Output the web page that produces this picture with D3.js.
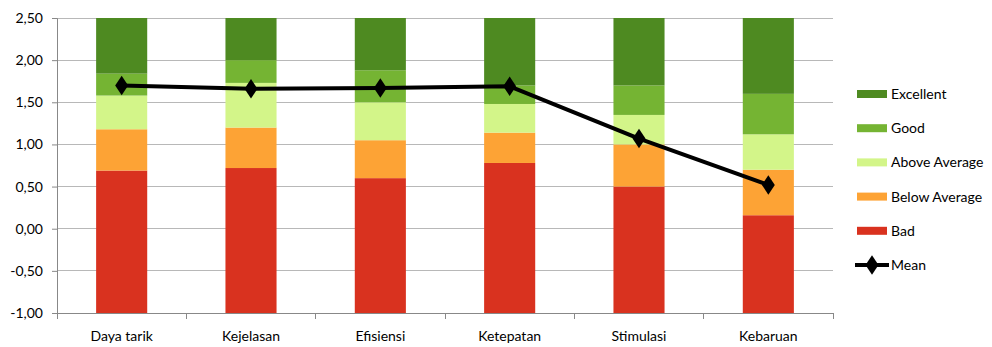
<!DOCTYPE html>
<html><head><meta charset="utf-8">
<script src="https://cdn.jsdelivr.net/npm/d3@7"></script>
<style>body{margin:0;background:#fff}text{font-family:Lato,"Open Sans",sans-serif;}</style>
</head><body><svg id="c" width="992" height="347"></svg>
<script>
const categories = ["Daya tarik","Kejelasan","Efisiensi","Ketepatan","Stimulasi","Kebaruan"];
// upper boundaries of each benchmark band (base of stack is -1, top clipped at 2.5)
const badTop = [0.69,0.72,0.60,0.78,0.50,0.16];
const belowTop = [1.18,1.20,1.05,1.14,1.00,0.70];
const aboveTop = [1.58,1.73,1.50,1.48,1.35,1.12];
const goodTop = [1.84,2.00,1.88,1.70,1.70,1.60];
const excellentTop = [2.50,2.50,2.50,2.50,2.50,2.50];
const mean = [1.70,1.66,1.67,1.69,1.07,0.52];
const yTicks = [-1,-0.5,0,0.5,1,1.5,2,2.5];
const seriesNames = ["Bad","Below Average","Above Average","Good","Excellent"];
const colors = ["#D9321F","#FDA335","#D3F589","#75B433","#4E8A21"];

const tops = [badTop, belowTop, aboveTop, goodTop, excellentTop];
const svg = d3.select("#c");
const m = {l:57, r:833, t:18, b:313};
const x = d3.scaleBand().domain(categories).range([m.l, m.r]).paddingInner(0.605).paddingOuter(0.3025);
const xc = d3.scaleBand().domain(categories).range([m.l, m.r]);
const y = d3.scaleLinear().domain([-1,2.5]).range([m.b, m.t]);
const FS = "14px";

// gridlines
svg.append("g").selectAll("line").data(yTicks).join("line")
  .attr("x1", m.l).attr("x2", m.r).attr("y1", d=>y(d)).attr("y2", d=>y(d))
  .attr("stroke","#b8b8b8").attr("stroke-width",1).attr("shape-rendering","crispEdges");

// bars
tops.forEach((arr, si) => {
  svg.append("g").selectAll("rect").data(categories).join("rect")
    .attr("x", d=>x(d)).attr("width", x.bandwidth())
    .attr("y", (d,i)=>y(arr[i]))
    .attr("height", (d,i)=>y(si===0 ? -1 : tops[si-1][i]) - y(arr[i]))
    .attr("fill", colors[si]);
});

// y axis
const ya = svg.append("g").attr("transform",`translate(${m.l},0)`)
  .call(d3.axisLeft(y).tickValues(yTicks).tickSize(5).tickPadding(9).tickFormat(d=>d3.format(".2f")(d).replace(".",",").replace("−","-")));
ya.select(".domain").attr("stroke","#888");
ya.selectAll(".tick line").attr("stroke","#888");
ya.selectAll("text").attr("font-size",FS).attr("fill","#000");

// x axis
const xa = svg.append("g").attr("transform",`translate(0,${m.b})`)
  .call(d3.axisBottom(xc).tickSize(0).tickPadding(18));
xa.select(".domain").attr("stroke","#888");
xa.selectAll("text").attr("font-size",FS).attr("fill","#000");
const bounds = categories.map(c=>xc(c)).concat([m.r]);
svg.append("g").selectAll("line").data(bounds).join("line")
  .attr("x1",d=>d).attr("x2",d=>d).attr("y1",m.b).attr("y2",m.b+6)
  .attr("stroke","#888").attr("shape-rendering","crispEdges");

// mean line
const line = d3.line().x((d,i)=>xc(categories[i])+xc.bandwidth()/2).y(d=>y(d));
svg.append("path").datum(mean).attr("d",line).attr("fill","none").attr("stroke","#000").attr("stroke-width",4).attr("stroke-linejoin","round");
const diamond = d3.symbol().type(d3.symbolDiamond).size(110);
svg.append("g").selectAll("path").data(mean).join("path")
  .attr("transform",(d,i)=>`translate(${xc(categories[i])+xc.bandwidth()/2},${y(d)}) scale(1.15,1)`)
  .attr("d", diamond).attr("fill","#000");

// legend
const legendItems = [4,3,2,1,0];
const lg = svg.append("g");
legendItems.forEach((si, k) => {
  const cy = 94 + k*34.2;
  lg.append("rect").attr("x",857).attr("y",cy-4).attr("width",30).attr("height",8).attr("fill",colors[si]);
  lg.append("text").attr("x",891).attr("y",cy).attr("dy","0.35em").attr("font-size",FS).text(seriesNames[si]);
});
const my = 94 + 5*34.2;
lg.append("line").attr("x1",855).attr("x2",889).attr("y1",my).attr("y2",my).attr("stroke","#000").attr("stroke-width",4);
lg.append("path").attr("transform",`translate(872,${my}) scale(1.15,1)`).attr("d",diamond).attr("fill","#000");
lg.append("text").attr("x",891).attr("y",my).attr("dy","0.35em").attr("font-size",FS).text("Mean");
</script></body></html>
